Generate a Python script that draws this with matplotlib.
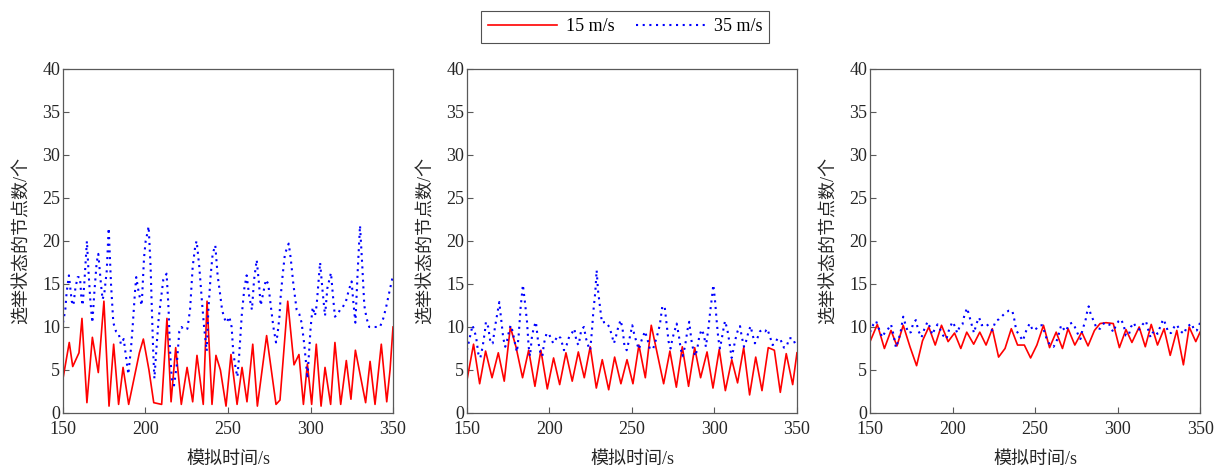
import matplotlib
matplotlib.use('Agg')
import matplotlib.pyplot as plt

plt.rcParams['font.family'] = ['Liberation Serif', 'Noto Sans CJK SC']
plt.rcParams['axes.unicode_minus'] = False

# 面板1 (15 m/s)
t1_red = [150.0, 153.8, 155.9, 159.7, 161.5, 164.5, 167.8, 171.4, 174.8, 177.9,
          180.7, 183.7, 186.4, 189.8, 196.3, 198.7, 202.1, 205.0, 209.8, 213.0,
          215.5, 218.3, 221.7, 225.2, 228.6, 231.2, 235.0, 237.3, 240.3, 242.7,
          245.4, 248.8, 251.8, 255.5, 258.5, 261.5, 265.0, 267.8, 273.4, 279.1,
          281.5, 286.2, 290.0, 293.0, 295.7, 298.1, 300.7, 303.5, 306.4, 308.8,
          312.2, 314.8, 318.3, 321.7, 324.5, 327.2, 333.4, 336.1, 339.1, 342.9,
          346.2, 348.2, 350.0]
v1_red = [4.0, 8.2, 5.4, 7.0, 11.0, 1.2, 8.8, 4.7, 13.0, 0.8,
          8.0, 1.0, 5.3, 1.0, 7.0, 8.6, 5.0, 1.2, 1.0, 11.0,
          1.3, 7.6, 1.0, 5.3, 1.3, 6.7, 1.0, 13.0, 1.0, 6.7,
          5.0, 0.8, 6.8, 1.0, 5.3, 1.3, 8.0, 0.8, 9.0, 1.0,
          1.5, 13.0, 5.6, 6.8, 1.0, 5.7, 1.0, 8.0, 0.8, 5.3,
          1.0, 8.2, 1.0, 6.1, 1.6, 7.3, 1.2, 6.0, 1.0, 8.0,
          1.3, 5.0, 10.0]

# 面板1 (35 m/s)
t1_blue = [150.0, 151.4, 152.2, 153.6, 155.3, 156.3, 157.5, 158.9, 160.3, 161.1,
           161.9, 162.9, 163.9, 164.5, 165.6, 166.6, 167.8, 169.0, 170.4, 171.4,
           173.0, 174.0, 175.1, 176.5, 177.7, 179.1, 180.5, 182.1, 183.7, 185.1,
           186.8, 188.2, 189.6, 191.2, 192.2, 193.6, 194.4, 195.9, 197.1, 197.7,
           199.1, 200.1, 200.7, 201.9, 203.1, 203.7, 204.7, 205.4, 206.8, 208.0,
           209.2, 210.8, 212.8, 214.0, 214.8, 215.9, 217.3, 218.9, 220.5, 221.9,
           222.9, 225.4, 227.0, 228.6, 230.2, 231.0, 232.6, 234.2, 235.5, 237.1,
           238.1, 239.5, 240.7, 242.3, 243.7, 245.1, 246.4, 247.8, 249.2, 250.8,
           252.2, 253.2, 254.8, 255.7, 256.7, 258.3, 259.9, 261.3, 262.9, 264.5,
           265.8, 267.4, 268.8, 269.8, 271.4, 273.0, 274.4, 275.9, 277.5, 279.1,
           279.9, 281.1, 281.9, 283.1, 284.5, 286.8, 288.0, 289.6, 291.6, 293.2,
           294.6, 296.2, 297.3, 298.1, 299.3, 300.1, 301.3, 302.7, 303.7, 305.8,
           307.4, 308.8, 310.2, 312.4, 313.8, 314.8, 316.5, 317.9, 319.5, 321.5,
           323.1, 324.9, 325.9, 327.2, 328.6, 330.0, 331.4, 332.6, 334.0, 335.6,
           338.7, 342.1, 344.1, 345.7, 347.7, 350.0]
v1_blue = [10.5, 12.0, 14.0, 16.0, 13.0, 12.5, 14.5, 15.8, 15.8, 13.5,
           12.5, 15.0, 18.0, 20.0, 16.0, 13.0, 10.5, 14.0, 17.5, 18.5,
           15.0, 13.2, 14.0, 16.5, 21.5, 15.0, 10.5, 9.5, 9.3, 8.0,
           8.6, 6.5, 4.5, 7.5, 10.0, 14.0, 15.8, 14.0, 13.0, 12.5,
           18.0, 20.0, 20.5, 21.7, 17.0, 13.0, 7.0, 4.0, 8.0, 11.0,
           13.0, 15.5, 16.2, 12.0, 7.5, 4.0, 3.2, 5.5, 9.5, 10.0,
           9.7, 9.8, 12.0, 17.0, 19.5, 20.0, 17.0, 13.0, 10.0, 7.2,
           12.0, 16.0, 18.5, 19.5, 16.0, 14.0, 12.0, 11.0, 10.5, 11.2,
           10.0, 7.0, 5.0, 4.2, 6.5, 11.3, 14.5, 16.0, 13.5, 12.0,
           15.5, 17.8, 15.0, 12.5, 14.0, 15.5, 15.0, 12.5, 10.0, 8.2,
           9.0, 11.0, 13.5, 16.0, 18.5, 19.7, 18.0, 15.0, 12.0, 11.5,
           10.5, 8.0, 5.8, 4.0, 7.5, 10.0, 12.3, 11.3, 12.5, 17.5,
           14.0, 11.3, 14.5, 16.3, 13.2, 11.2, 11.5, 12.0, 12.3, 13.0,
           14.2, 15.3, 13.0, 10.5, 16.5, 21.8, 17.0, 12.5, 11.0, 10.0,
           10.0, 10.0, 11.0, 12.2, 14.0, 16.0]

# 面板2 (15 m/s)
t2_red = [150.0, 154.0, 157.7, 161.3, 165.2, 169.0, 172.6, 176.3, 179.7, 183.7,
          187.4, 191.2, 194.8, 198.7, 202.5, 206.2, 210.0, 213.8, 217.5, 221.1,
          224.7, 228.4, 232.0, 235.9, 239.5, 243.3, 247.0, 250.6, 254.2, 258.1,
          261.7, 269.2, 273.0, 276.9, 280.5, 284.3, 288.0, 291.6, 295.5, 299.1,
          302.9, 306.6, 310.5, 314.0, 317.7, 321.3, 325.0, 328.8, 332.6, 336.3,
          339.9, 343.5, 347.4, 350.0]
v2_red = [3.8, 8.0, 3.4, 7.2, 4.1, 7.0, 3.7, 10.0, 7.7, 4.1,
          7.3, 3.1, 7.3, 2.8, 6.4, 3.3, 7.0, 3.7, 7.1, 4.1,
          7.7, 2.9, 6.2, 2.7, 6.5, 3.4, 6.2, 3.4, 7.9, 4.1,
          10.2, 3.4, 7.2, 3.0, 7.7, 3.1, 7.6, 4.1, 7.1, 2.9,
          7.4, 2.6, 6.2, 3.5, 7.6, 2.1, 6.5, 2.6, 7.6, 7.3,
          2.4, 6.9, 3.3, 7.0]

# 面板2 (35 m/s)
t2_blue = [150.0, 151.4, 153.4, 155.5, 156.9, 158.1, 159.5, 160.9, 161.5, 162.9,
           164.3, 165.6, 167.0, 168.4, 169.6, 170.8, 172.0, 173.2, 174.4, 175.7,
           176.5, 177.7, 178.9, 180.3, 181.3, 182.5, 183.9, 185.2, 186.4, 187.4,
           188.2, 189.4, 190.6, 191.8, 193.0, 194.4, 195.7, 196.7, 198.3, 199.9,
           202.3, 205.2, 206.8, 208.8, 210.4, 212.0, 213.6, 215.1, 216.5, 217.7,
           219.3, 220.9, 222.1, 223.7, 224.7, 225.8, 226.6, 227.8, 228.6, 229.4,
           230.6, 231.8, 234.0, 236.3, 237.7, 239.1, 240.3, 241.7, 243.1, 244.3,
           245.4, 246.8, 247.8, 248.8, 250.2, 251.2, 252.8, 254.2, 255.9, 257.9,
           259.5, 260.9, 262.9, 264.5, 266.0, 267.0, 268.4, 269.8, 271.0, 272.2,
           273.4, 274.6, 276.1, 277.1, 278.5, 279.5, 280.7, 282.1, 283.7, 284.7,
           286.0, 287.2, 288.4, 289.6, 290.8, 292.2, 293.6, 294.8, 296.3, 297.3,
           298.5, 299.3, 300.3, 301.3, 302.3, 303.3, 304.3, 305.4, 306.4, 307.8,
           309.0, 310.4, 311.4, 312.6, 314.0, 315.5, 316.5, 317.9, 319.1, 320.7,
           321.9, 323.1, 324.5, 326.0, 327.6, 329.2, 330.8, 332.0, 333.6, 335.2,
           336.7, 338.3, 340.1, 342.1, 343.7, 345.3, 347.4, 348.8, 350.0]
v2_blue = [7.3, 8.5, 10.2, 8.9, 6.9, 6.4, 7.7, 9.5, 10.6, 10.0,
           8.1, 8.1, 10.0, 11.6, 12.9, 10.8, 8.7, 7.7, 8.5, 9.7,
           10.2, 9.5, 8.3, 7.1, 8.9, 12.2, 14.9, 12.8, 10.6, 7.7,
           6.6, 8.9, 10.0, 10.6, 8.5, 7.1, 6.6, 8.1, 9.3, 9.1,
           8.1, 9.0, 8.7, 7.3, 7.9, 8.9, 9.3, 9.8, 8.2, 7.9,
           9.7, 10.0, 8.7, 7.7, 7.3, 9.7, 11.8, 14.1, 16.6, 14.3,
           12.4, 10.5, 10.6, 10.0, 9.1, 8.1, 8.9, 10.0, 10.8, 9.8,
           7.9, 7.3, 8.1, 8.9, 10.2, 9.3, 8.2, 7.4, 8.5, 9.5,
           8.5, 7.4, 7.5, 8.5, 9.5, 10.4, 12.4, 12.4, 10.4, 8.3,
           7.5, 8.7, 9.7, 10.4, 8.9, 7.5, 6.6, 7.7, 9.7, 10.6,
           8.5, 7.3, 6.6, 7.5, 8.9, 9.7, 9.1, 7.7, 9.8, 11.6,
           13.5, 14.9, 13.2, 10.8, 8.7, 7.5, 8.5, 9.7, 10.7, 9.7,
           8.3, 6.4, 7.3, 8.5, 9.5, 10.1, 8.9, 7.7, 8.3, 9.5,
           10.1, 9.1, 8.1, 8.7, 9.5, 9.7, 9.5, 9.8, 8.9, 7.9,
           8.1, 8.7, 8.5, 7.6, 7.7, 8.7, 8.7, 8.1, 7.8]

# 面板3 (15 m/s)
t3_red = [150.0, 154.4, 158.7, 162.7, 166.3, 170.1, 174.2, 178.2, 181.8, 185.6,
          189.5, 193.3, 197.3, 201.2, 205.0, 208.6, 212.8, 216.5, 220.3, 224.1,
          227.9, 231.8, 235.6, 239.4, 243.5, 247.3, 251.1, 255.1, 258.8, 262.8,
          266.6, 270.0, 274.1, 278.3, 282.1, 286.0, 289.4, 293.0, 297.4, 301.1,
          305.1, 308.7, 313.1, 316.8, 320.4, 324.2, 328.2, 331.9, 335.9, 339.9,
          343.4, 347.4, 350.0]
v3_red = [8.3, 10.3, 7.5, 9.6, 7.8, 10.2, 7.7, 5.5, 8.4, 10.0,
          7.9, 10.2, 8.3, 9.3, 7.5, 9.4, 8.0, 9.4, 7.9, 9.8,
          6.5, 7.5, 9.8, 7.9, 7.9, 6.4, 7.9, 10.2, 7.6, 9.4,
          7.5, 9.8, 7.9, 9.4, 7.8, 9.6, 10.4, 10.5, 10.4, 7.6,
          9.7, 8.2, 10.0, 7.7, 10.3, 7.9, 9.8, 6.7, 9.6, 5.6,
          10.0, 8.3, 9.4]

# 面板3 (35 m/s)
t3_blue = [150.0, 152.0, 153.6, 155.4, 157.3, 159.1, 160.7, 162.7, 164.1, 165.7,
           167.1, 168.5, 170.1, 171.6, 173.2, 174.8, 176.2, 177.8, 179.2, 181.2,
           182.8, 184.8, 186.3, 187.7, 189.3, 190.9, 192.3, 194.3, 196.3, 197.9,
           199.9, 201.4, 202.8, 204.4, 206.0, 207.2, 208.8, 210.0, 211.4, 213.0,
           214.5, 216.1, 217.7, 219.1, 220.5, 222.1, 224.1, 226.1, 228.1, 230.2,
           232.2, 234.2, 236.2, 237.4, 238.6, 240.6, 242.6, 244.7, 246.7, 248.7,
           250.7, 252.7, 254.3, 255.9, 257.4, 259.2, 261.2, 262.8, 264.4, 265.8,
           267.2, 268.8, 270.4, 272.5, 274.1, 275.9, 277.5, 278.9, 280.5, 281.5,
           282.5, 283.7, 285.5, 287.4, 289.4, 292.0, 295.0, 297.4, 299.0, 300.7,
           302.1, 303.7, 305.1, 306.7, 308.1, 309.7, 311.1, 313.1, 315.2, 317.2,
           318.4, 320.0, 321.2, 322.8, 324.2, 326.2, 327.6, 329.2, 330.8, 332.4,
           334.3, 335.7, 337.3, 338.9, 340.3, 341.9, 343.4, 345.0, 346.4, 348.0,
           349.0, 350.0]
v3_blue = [9.4, 10.3, 10.7, 9.8, 8.8, 9.4, 9.7, 10.3, 9.2, 7.6,
           8.4, 9.4, 11.2, 10.2, 9.3, 9.4, 10.5, 10.8, 9.6, 8.8,
           9.7, 10.6, 10.0, 9.1, 9.8, 10.3, 9.8, 9.0, 8.6, 9.7,
           10.6, 10.1, 9.3, 10.1, 10.3, 11.4, 12.2, 11.4, 10.4, 9.3,
           10.4, 11.1, 10.2, 10.3, 10.4, 10.0, 9.6, 10.7, 10.9, 11.3,
           11.7, 11.9, 11.9, 10.9, 9.6, 9.0, 8.4, 9.6, 10.4, 9.6,
           9.8, 10.2, 10.2, 9.3, 8.4, 7.9, 7.7, 8.2, 9.2, 10.2,
           9.8, 9.5, 10.3, 10.5, 10.0, 9.2, 8.6, 9.8, 10.7, 11.7,
           12.4, 11.5, 10.7, 9.8, 9.8, 10.5, 10.3, 9.4, 10.2, 10.7,
           10.9, 10.2, 9.0, 9.0, 10.0, 10.5, 10.0, 9.7, 10.3, 10.7,
           9.8, 8.8, 9.3, 9.6, 9.2, 10.2, 10.9, 10.3, 9.3, 9.3,
           10.0, 10.3, 9.8, 9.4, 9.2, 10.0, 10.2, 10.4, 9.6, 9.6,
           10.0, 10.5]

series = [(t1_red, v1_red, t1_blue, v1_blue),
          (t2_red, v2_red, t2_blue, v2_blue),
          (t3_red, v3_red, t3_blue, v3_blue)]

x_ticks = [150, 200, 250, 300, 350]
y_ticks = [0, 5, 10, 15, 20, 25, 30, 35, 40]
legend_labels = ['15 m/s', '35 m/s']

fig = plt.figure(figsize=(12.16, 4.70), dpi=100)
lefts = [0.0518, 0.3840, 0.7155]
for i, (tr, vr, tb, vb) in enumerate(series):
    ax = fig.add_axes([lefts[i], 0.1213, 0.2714, 0.7319])
    l1, = ax.plot(tr, vr, color='#ff0000', lw=1.2, label=legend_labels[0])
    l2, = ax.plot(tb, vb, color='#0000ff', lw=1.5, linestyle=(0, (1, 2.2)),
                  label=legend_labels[1])
    ax.set_xlim(150, 350)
    ax.set_ylim(0, 40)
    ax.set_xticks(x_ticks)
    ax.set_yticks(y_ticks)
    ax.tick_params(direction='in', labelsize=13, colors='#262626',
                   length=4, width=0.8, top=False, right=False)
    ax.tick_params(axis='x', pad=6, colors='#595959', labelcolor='#262626')
    ax.tick_params(axis='y', pad=2, colors='#595959', labelcolor='#262626')
    for s in ax.spines.values():
        s.set_color('#595959')
        s.set_linewidth(0.9)
    ax.set_xlabel('模拟时间/s', fontsize=13, labelpad=9, color='#262626')
    ax.set_ylabel('选举状态的节点数/个', fontsize=13, labelpad=9, color='#262626')

leg = fig.legend([l1, l2], legend_labels, loc='center', ncol=2,
                 bbox_to_anchor=(0.514, 0.943), fontsize=13,
                 frameon=True, fancybox=False, handlelength=3.8,
                 handletextpad=0.5, columnspacing=1.2, borderpad=0.4)
leg.get_frame().set_edgecolor('#262626')
leg.get_frame().set_linewidth(0.8)

fig.savefig('out.png', dpi=100)
